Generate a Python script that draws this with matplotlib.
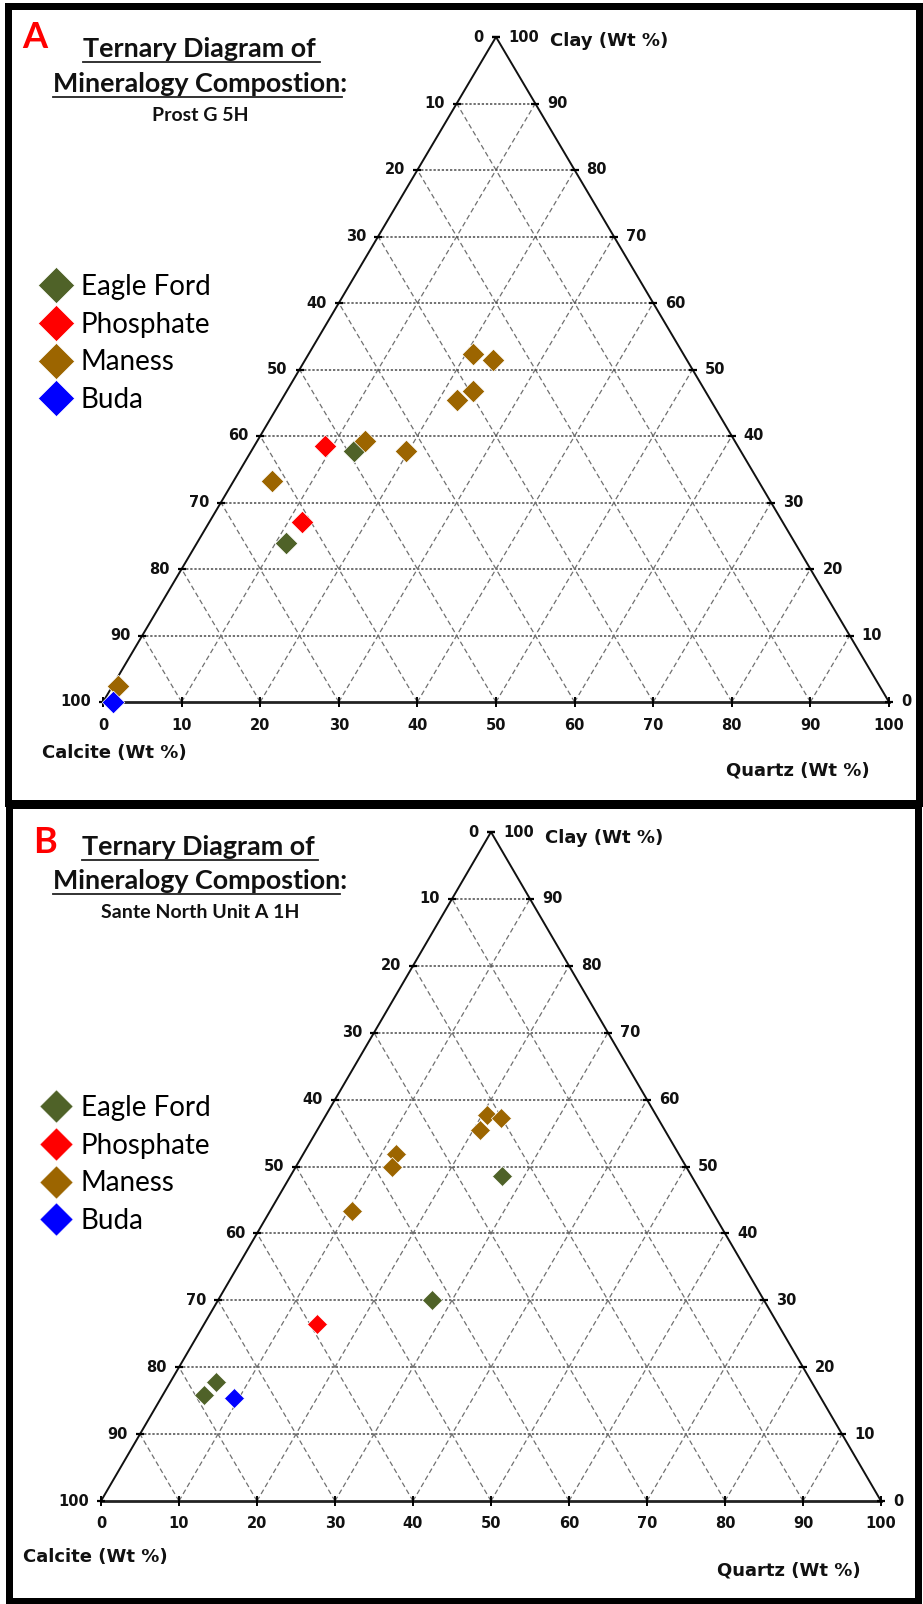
import numpy as np
import matplotlib.pyplot as plt
from matplotlib.patches import Rectangle

FIG_W, FIG_H = 923, 1604

groups = ['Eagle Ford', 'Phosphate', 'Maness', 'Buda']
group_colors = ['#4F6228', '#FF0000', '#9C6500', '#0000FF']

# Panel A - Prost G 5H (wt %)
a_group = ['Eagle Ford', 'Eagle Ford', 'Phosphate', 'Phosphate',
           'Maness', 'Maness', 'Maness', 'Maness', 'Maness', 'Maness', 'Maness', 'Maness',
           'Buda']
a_calcite = [49.2, 64.8, 52.5, 61.2, 26.8, 24.6, 29.5, 32.3, 47.0, 42.6, 61.8, 96.9, 98.7]
a_quartz = [13.0, 11.3, 9.0, 11.8, 20.9, 23.9, 23.7, 22.3, 13.7, 19.7, 4.9, 0.7, 1.3]
a_clay = [37.8, 23.9, 38.5, 27.0, 52.3, 51.5, 46.8, 45.4, 39.3, 37.7, 33.3, 2.4, 0.0]

# Panel B - Sante North Unit A 1H (wt %)
b_group = ['Eagle Ford', 'Eagle Ford', 'Eagle Ford', 'Eagle Ford', 'Phosphate',
           'Maness', 'Maness', 'Maness', 'Maness', 'Maness', 'Maness', 'Buda']
b_calcite = [24.3, 42.5, 76.3, 78.9, 59.1, 21.6, 20.1, 23.7, 36.2, 37.7, 46.2, 75.3]
b_quartz = [27.1, 27.5, 5.9, 5.3, 14.4, 20.7, 22.7, 20.9, 11.9, 12.4, 10.5, 9.3]
b_clay = [48.6, 30.0, 17.8, 15.8, 26.5, 57.7, 57.2, 55.4, 51.9, 49.9, 43.3, 15.4]

ticks = list(range(0, 101, 10))

title_font = 'Lato'
num_font = 'DejaVu Sans'

fig = plt.figure(figsize=(FIG_W / 100, FIG_H / 100), dpi=100)
bg = fig.add_axes([0, 0, 1, 1])
bg.set_xlim(0, FIG_W)
bg.set_ylim(FIG_H, 0)
bg.axis('off')

PX = 0.72  # points per pixel


def draw_panel(box, grp, calcite, quartz, clay, ms, bottom_off):
    l, t, r, b = box
    ax = fig.add_axes([l / FIG_W, 1 - b / FIG_H, (r - l) / FIG_W, (b - t) / FIG_H])
    ax.set_xlim(0, 100)
    ax.set_ylim(0, 100)
    ax.axis('off')

    # grid: constant clay (horizontal), constant quartz and constant calcite
    for v in ticks[1:-1]:
        ax.plot([v / 2, 100 - v / 2], [v, v], color='#4a4a4a', lw=1.1,
                ls=(0, (1.5, 1.2)), zorder=1)
        ax.plot([v, v + (100 - v) / 2], [0, 100 - v], color='#707070', lw=0.9,
                ls=(0, (4, 2.5)), zorder=1)
        ax.plot([100 - v, (100 - v) / 2], [0, 100 - v], color='#707070', lw=0.9,
                ls=(0, (4, 2.5)), zorder=1)

    # edges
    ax.plot([0, 50, 100], [0, 100, 0], color='#111111', lw=1.4, zorder=2, clip_on=False)
    ax.plot([0, 100], [0, 0], color='#222222', lw=2.0, zorder=2, clip_on=False)

    # tick marks
    tv = np.array(ticks, dtype=float)
    ax.plot((100 - tv) / 2, 100 - tv, ls='none', marker='_', ms=6, mew=1.6,
            color='k', clip_on=False, zorder=3)
    ax.plot(100 - tv / 2, tv, ls='none', marker='_', ms=6, mew=1.6,
            color='k', clip_on=False, zorder=3)
    ax.plot(tv, np.zeros_like(tv), ls='none', marker='|', ms=7, mew=1.4,
            color='k', clip_on=False, zorder=3)

    # tick labels
    kw = dict(textcoords='offset points', fontsize=10.5, fontweight='bold',
              family=num_font, color='#111111', annotation_clip=False)
    for v in ticks:
        # left edge: calcite, 0 at apex
        ax.annotate(str(v), (50 - v / 2, 100 - v), xytext=(-12 * PX, 0),
                    ha='right', va='center', **kw)
        # right edge: clay, 0 at bottom right
        ax.annotate(str(v), (100 - v / 2, v), xytext=(12 * PX, 0),
                    ha='left', va='center', **kw)
        # bottom: quartz
        ax.annotate(str(v), (v, 0), xytext=(0, -bottom_off * PX),
                    ha='center', va='center', **kw)

    # samples
    q = np.array(quartz)
    c = np.array(clay)
    g = np.array(grp)
    handles = []
    for name, col in zip(groups, group_colors):
        m = g == name
        h = ax.scatter(q[m] + c[m] / 2, c[m], marker='D', s=ms ** 2, color=col,
                       edgecolors='white', linewidths=0.5, zorder=5, clip_on=False)
        handles.append(h)
    return ax, handles


def panel_text(letter, letter_xy, subtitle, t1, t2, sub_xy,
               clay_xy, calc_xy, qtz_xy):
    bg.text(letter_xy[0], letter_xy[1], letter, color='#FF0000', fontsize=26,
            fontweight='bold', family=title_font, ha='left', va='baseline')
    bg.text(t1[0], t1[1], 'Ternary Diagram of', fontsize=19.4, fontweight='bold',
            family=title_font, ha='left', va='baseline', color='#111111')
    bg.plot([t1[0], t1[2]], [t1[1] + 4.5, t1[1] + 4.5], color='#222222', lw=1.3)
    bg.text(t2[0], t2[1], 'Mineralogy Compostion:', fontsize=19.4, fontweight='bold',
            family=title_font, ha='left', va='baseline', color='#111111')
    bg.plot([t2[0], t2[2]], [t2[1] + 4.5, t2[1] + 4.5], color='#222222', lw=1.3)
    bg.text(sub_xy[0], sub_xy[1], subtitle, fontsize=14, fontweight='bold',
            family=title_font, ha='center', va='baseline', color='#111111')
    lab = dict(fontsize=13, fontweight='bold', family=num_font, ha='left',
               va='center', color='#111111')
    bg.text(clay_xy[0], clay_xy[1], 'Clay (Wt %)', **lab)
    bg.text(calc_xy[0], calc_xy[1], 'Calcite (Wt %)', **lab)
    bg.text(qtz_xy[0], qtz_xy[1], 'Quartz (Wt %)', **lab)


# panel frames
bg.add_patch(Rectangle((8, 6), 911, 797, fill=False, ec='black', lw=7 * PX, zorder=10))
bg.add_patch(Rectangle((9, 805), 909, 796, fill=False, ec='black', lw=7 * PX, zorder=10))

ax_a, h_a = draw_panel((103, 37, 889, 702), a_group, a_calcite, a_quartz, a_clay,
                       11.5, 24)
ax_b, h_b = draw_panel((101, 832, 881, 1501), b_group, b_calcite, b_quartz, b_clay,
                       10.2, 22)

panel_text('A', (22, 48), 'Prost G 5H', (83, 57, 320), (53, 92, 342), (200, 121),
           (550, 41), (42, 753), (726, 771))
panel_text('B', (33, 853), 'Sante North Unit A 1H', (82, 855, 318), (53, 889, 340),
           (200, 918), (545, 838), (23, 1557), (717, 1570))

for ax, handles, top, scale in [(ax_a, h_a, 274, 18.5 / 11.5), (ax_b, h_b, 1095, 17 / 10.2)]:
    ax.legend(handles, groups, loc='upper left',
              bbox_to_anchor=(42 / FIG_W, 1 - top / FIG_H), bbox_transform=fig.transFigure,
              frameon=False, prop={'family': title_font, 'size': 20},
              markerscale=scale, scatteryoffsets=[0.5], handlelength=1.0,
              handletextpad=0.4, labelspacing=0.42, borderpad=0, borderaxespad=0)

fig.savefig('out.png', dpi=100)
